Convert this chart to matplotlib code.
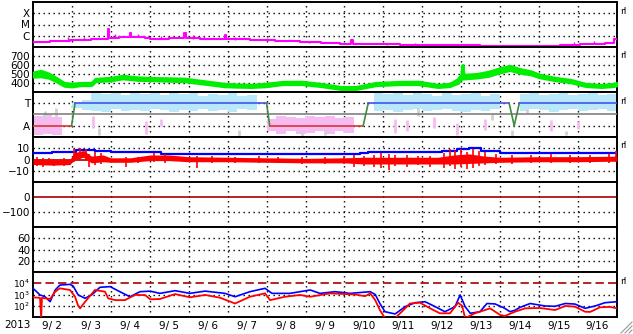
import numpy as np
import matplotlib
matplotlib.use('Agg')
import matplotlib.pyplot as plt
from matplotlib.lines import Line2D

plt.rcParams['font.family'] = ['DejaVu Sans']
plt.rcParams['mathtext.fontset'] = 'dejavusans'

# ---------------- data (days since 2013-09-02 00:00 UT) ----------------
day_labels = ['9/ 2', '9/ 3', '9/ 4', '9/ 5', '9/ 6', '9/ 7', '9/ 8', '9/ 9',
              '9/10', '9/11', '9/12', '9/13', '9/14', '9/15', '9/16']
year_label = '2013'

# GOES X-ray flux (log10 W/m2)
xray_t = [0, 0.44, 0.95, 1.5, 1.72, 1.92, 1.95, 2.2, 2.36, 2.48, 2.52, 2.88, 3.01,
          3.5, 3.88, 3.92, 4.29, 4.6, 4.93, 4.97, 5.57, 6.22, 6.86, 7.4, 7.89,
          8.17, 8.22, 8.91, 9.43, 10.45, 11.23, 11.48, 12.51, 13.54, 14.05,
          14.69, 14.92, 15.0]
xray_log = [-6.55, -6.45, -6.36, -6.33, -6.32, -5.36, -6.18, -6.1, -6.09, -5.73,
            -6.1, -6.18, -6.27, -6.22, -5.73, -6.18, -6.32, -6.28, -5.9, -6.27,
            -6.41, -6.45, -6.59, -6.65, -6.73, -6.36, -6.73, -6.73, -6.82,
            -6.86, -6.86, -6.91, -6.91, -6.86, -6.73, -6.64, -6.27, -6.27]
xray_spike_t = [0.9, 1.3, 2.1, 2.7, 3.3, 4.1, 4.4, 5.2, 6.0, 7.1, 9.1, 9.8, 10.6,
                13.9, 14.4]
xray_spike_lo = [-6.4, -6.35, -6.15, -6.12, -6.25, -6.25, -6.3, -6.35, -6.45, -6.62,
                 -6.78, -6.84, -6.88, -6.78, -6.7]
xray_spike_hi = [-6.15, -6.1, -5.8, -5.85, -6.0, -5.95, -6.05, -6.15, -6.2, -6.45,
                 -6.6, -6.65, -6.7, -6.55, -6.5]
xray_levels = [-4, -5, -6]
xray_names = ['X', 'M', 'C']

# Solar wind speed envelope (km/s)
speed_t = [0, 0.2, 0.4, 0.6, 0.8, 1.0, 1.2, 1.5, 1.6, 2.0, 2.3, 2.7, 3.0, 3.5,
           3.9, 4.3, 4.9, 5.2, 5.6, 6.0, 6.4, 6.9, 7.4, 7.9, 8.3, 8.8, 9.4, 9.9,
           10.4, 10.7, 10.9, 11.0, 11.03, 11.06, 11.4, 11.7, 12.0, 12.25, 12.5,
           12.8, 13.0, 13.4, 13.8, 14.2, 14.6, 14.9, 15.0]
speed_lo = [470, 475, 460, 420, 370, 362, 375, 378, 420, 430, 452, 435, 432, 425,
            420, 398, 365, 360, 356, 365, 388, 388, 366, 334, 334, 376, 388, 388,
            356, 366, 400, 450, 450, 450, 462, 480, 520, 545, 515, 495, 465, 432,
            410, 366, 356, 366, 375]
speed_hi = [515, 535, 505, 455, 400, 392, 400, 402, 445, 458, 480, 462, 456, 452,
            448, 425, 392, 385, 380, 392, 412, 414, 390, 356, 356, 400, 412, 414,
            380, 390, 440, 490, 600, 490, 500, 525, 565, 590, 555, 528, 492, 458,
            435, 390, 378, 390, 400]
speed_levels = [400, 500, 600, 700]

# IMF sector (A=1, T=3)
sector_t = [0, 0.99, 1.08, 6.0, 6.08, 8.48, 8.61, 12.23, 12.36, 12.49, 15.0]
sector_v = [1, 1, 3, 3, 1, 1, 3, 3, 1, 3, 3]
phi_t = [i * 0.25 for i in range(61)]
nan = float('nan')
cyan_lo = [nan, nan, nan, nan, 2.6, 2.4, 2.3, 2.2, 2.5, 2.3, 2.4, 2.3, 2.5, 2.4,
           2.2, 2.4, 2.3, 2.5, 2.3, 2.4, 2.2, 2.5, 2.4, 2.3, nan, nan, nan, nan,
           nan, nan, nan, nan, nan, nan, nan, 2.3, 2.4, 2.2, 2.4, 2.5, 2.3, 2.4,
           2.5, 2.3, 2.2, 2.4, 2.3, 2.5, 2.4, nan, 2.3, 2.5, 2.4, 2.2, 2.4, 2.5,
           2.3, 2.4, 2.5, 2.3, 2.4]
cyan_hi = [nan, nan, nan, nan, 3.0, 3.3, 3.9, 3.8, 3.9, 3.7, 3.9, 3.8, 3.9, 3.7,
           3.9, 3.8, 3.9, 3.6, 3.8, 3.7, 3.9, 3.6, 3.7, 3.9, nan, nan, nan, nan,
           nan, nan, nan, nan, nan, nan, nan, 3.9, 3.8, 3.9, 3.7, 3.9, 3.8, 3.6,
           3.9, 3.7, 3.8, 3.9, 3.6, 3.8, 3.7, nan, 3.8, 3.9, 3.7, 3.8, 3.9, 3.7,
           3.8, 3.9, 3.7, 3.8, 3.8]
pink_lo = [0.2, 0.3, 0.2, 0.4, nan, nan, nan, nan, nan, nan, nan, nan, nan, nan,
           nan, nan, nan, nan, nan, nan, nan, nan, nan, nan, 0.5, 0.3, 0.5, 0.3,
           0.4, 0.5, 0.3, 0.5, 0.4, 0.6, nan, nan, nan, nan, nan, nan, nan, nan,
           nan, nan, nan, nan, nan, nan, nan, 0.3, nan, nan, nan, nan, nan, nan,
           nan, nan, nan, nan, nan]
pink_hi = [1.9, 2.0, 1.8, 2.0, nan, nan, nan, nan, nan, nan, nan, nan, nan, nan,
           nan, nan, nan, nan, nan, nan, nan, nan, nan, nan, 1.6, 1.9, 1.8, 1.7,
           1.9, 1.8, 1.9, 1.7, 1.8, 1.9, nan, nan, nan, nan, nan, nan, nan, nan,
           nan, nan, nan, nan, nan, nan, nan, 1.5, nan, nan, nan, nan, nan, nan,
           nan, nan, nan, nan, nan]
pink_spot_t = [1.55, 2.9, 3.3, 9.3, 9.6, 10.3, 10.9, 11.6, 13.3, 14.0]
pink_spot_lo = [0.8, 0.3, 1.0, 0.4, 0.5, 0.8, 0.2, 0.6, 0.5, 0.7]
pink_spot_hi = [1.9, 1.4, 1.6, 1.6, 1.5, 1.8, 1.2, 1.6, 1.5, 1.4]
gray_spot_t = [0.3, 0.6, 1.7, 5.3, 6.9, 7.5, 9.9, 11.8, 12.3, 12.7, 13.7]
gray_spot_lo = [1.6, 1.8, 0.2, 0.1, 0.1, 0.2, 1.9, 1.5, 0.1, 2.1, 0.2]
gray_spot_hi = [2.3, 2.6, 0.8, 0.6, 0.5, 0.7, 2.6, 2.0, 0.6, 2.5, 0.5]

# IMF Bt (nT)
bt_t = [0, 0.5, 1.0, 1.1, 1.6, 2.0, 2.6, 3.0, 3.3, 5.0, 7.0, 8.0, 8.4, 8.6, 9.0,
        9.5, 10.0, 10.5, 10.9, 11.2, 11.5, 12.0, 12.5, 13.0, 14.0, 14.8, 15.0]
bt_v = [6, 6.3, 6.5, 8.5, 8, 7, 6.5, 6.5, 4.6, 4.6, 4.6, 4.8, 5.5, 6.8, 6.5, 6.8,
        6.5, 7.5, 9, 10, 8, 6, 6, 5.8, 5.8, 6.2, 8]
# IMF Bz (nT): core band and individual excursions
bz_t = [0, 0.5, 0.95, 1.05, 1.3, 1.5, 1.8, 2.0, 2.5, 3.0, 3.5, 4.0, 5.0, 6.0, 7.0,
        8.0, 8.5, 9.0, 9.5, 10.4, 10.8, 11.2, 11.6, 12.0, 13.0, 14.0, 15.0]
bz_lo = [-4.5, -5, -4.5, 0, 2, -3, -2, -2.5, -2.5, -1, -1, -2, -2, -2.5, -3, -3,
         -4, -4, -4, -4, -4, -3.5, -3, -2.5, -2, -2, -1.5]
bz_hi = [0.5, -0.5, 0, 6, 8, 3, 4, 1.5, 1.5, 4, 4, 2.5, 2, 1.5, 1, 1.5, 2, 2, 2,
         2, 4, 5, 3, 2, 2.5, 2.5, 3]
bz_spike_t = [0.1, 0.25, 0.4, 0.55, 0.8, 1.05, 1.2, 1.35, 1.45, 1.6, 1.75, 2.4,
              2.7, 3.1, 3.4, 4.2, 4.6, 5.2, 5.8, 6.3, 6.9, 7.5, 8.0, 8.25, 8.5,
              8.75, 8.95, 9.15, 9.3, 9.6, 9.9, 10.2, 10.55, 10.7, 10.85, 11.0,
              11.15, 11.3, 11.45, 11.6, 11.9, 12.3, 12.8, 13.3, 13.8, 14.3, 14.8,
              14.98]
bz_spike_lo = [-6, -7, -5, -6, -6, -2, 0, -1, -6.5, -5, -4, -6.7, -3, -2, -3, -7.5,
               -3, -3, -3.5, -3, -4, -4, -4, -6.7, -6, -6.5, -7.5, -9, -6, -6.7,
               -5, -6.7, -7.5, -6, -8, -7, -8, -7.5, -6, -5, -4, -4, -3.5, -3.5,
               -3, -3.5, -3, -2]
bz_spike_hi = [2, 1, 1, 0.5, 1, 9, 10, 9, 5, 6.7, 6, 2, 2.5, 5.5, 5, 3, 3, 2.5, 3,
               2.5, 2, 2.5, 3, 4, 3.5, 4, 5.8, 5, 4, 4, 3, 3.5, 6, 9.3, 8, 9.3, 7,
               9, 8, 7, 5, 4, 4, 4.5, 4, 4, 4.5, 8]
bz_levels = [10, -10]

# Dst (no data), Kp-like panel (no data)
dst_levels = [-100]
p6_levels = [20, 40, 60]

# GOES electron flux (log10)
eb_t = [0.0, 0.18, 0.31, 0.44, 0.57, 0.69, 0.95, 1.03, 1.16, 1.34, 1.52, 1.72,
        1.98, 2.23, 2.49, 2.75, 3.01, 3.26, 3.65, 4.03, 4.42, 4.93, 5.19, 5.57,
        5.96, 6.14, 6.60, 7.12, 7.37, 7.76, 8.14, 8.66, 8.79, 8.91, 9.04, 9.30,
        9.56, 9.81, 10.07, 10.33, 10.58, 10.84, 10.97, 11.10, 11.23, 11.48,
        11.66, 11.87, 12.12, 12.25, 12.38, 12.51, 12.77, 13.15, 13.41, 13.67,
        13.92, 14.18, 14.44, 14.69, 15.0]
eb_log = [3.55, 2.96, 2.8, 2.36, 3.4, 3.84, 3.9, 3.76, 2.96, 2.66, 3.0, 3.64, 3.7,
          3.25, 2.8, 3.25, 3.3, 3.1, 3.34, 3.1, 3.3, 3.1, 2.8, 3.25, 3.55, 3.1,
          3.1, 3.4, 3.1, 3.25, 3.1, 3.25, 3.0, 2.2, 1.47, 1.27, 1.92, 2.27, 2.36,
          1.92, 1.47, 1.92, 2.96, 1.92, 1.33, 1.47, 2.2, 2.16, 1.77, 1.47, 1.6,
          1.86, 2.2, 1.98, 1.95, 2.2, 2.15, 1.77, 1.98, 2.27, 2.36]
er_t = [0.0, 0.18, 0.21, 0.23, 0.44, 0.57, 0.69, 0.95, 1.08, 1.16, 1.21, 1.34,
        1.59, 1.85, 1.93, 2.11, 2.36, 2.62, 2.88, 3.01, 3.26, 3.65, 4.03, 4.42,
        4.80, 5.19, 5.57, 5.96, 6.09, 6.47, 6.86, 7.12, 7.63, 8.27, 8.53, 8.66,
        8.79, 8.91, 9.04, 9.30, 9.56, 9.68, 9.94, 10.20, 10.45, 10.71, 10.92,
        11.02, 11.10, 11.35, 11.48, 11.74, 12.0, 12.12, 12.38, 12.64, 13.02,
        13.41, 13.67, 13.92, 14.18, 14.31, 14.56, 14.82, 15.0]
er_log = [2.75, 2.7, 0.9, 2.7, 2.6, 3.25, 3.55, 3.4, 2.8, 2.0, 1.77, 2.36, 3.4,
          3.25, 2.66, 2.5, 2.5, 2.96, 2.95, 2.57, 2.6, 3.04, 2.75, 2.96, 2.72,
          2.2, 2.8, 3.1, 2.5, 2.8, 2.96, 2.8, 3.1, 3.0, 2.85, 3.1, 2.5, 1.62, 0.9,
          0.9, 1.77, 2.2, 2.27, 1.77, 1.33, 1.33, 2.27, 2.0, 0.9, 1.33, 1.47, 1.77,
          1.18, 1.09, 1.47, 1.77, 1.8, 1.62, 1.98, 1.92, 1.47, 1.45, 1.86, 1.9,
          1.77]
e_threshold = 1e4
e_levels = [1e2, 1e3]

# ---------------- layout ----------------
W, H = 633, 334
fig = plt.figure(figsize=(W / 100, H / 100), dpi=100)
fig.patch.set_facecolor('white')
left_px, right_px = 33, 617
tops = [2 + 45 * i for i in range(7)]

axes = []
for top in tops:
    ax = fig.add_axes([left_px / W, (H - top - 45) / H, (right_px - left_px) / W, 45 / H])
    axes.append(ax)

FS = 7.5
dot = (0, (1, 2.6))
for ax in axes:
    ax.set_xlim(0, 15)
    for s in ax.spines.values():
        s.set_linewidth(1.4)
        s.set_color('black')
    for d in range(1, 15):
        ax.axvline(d, color='black', lw=1.0, ls=dot, zorder=1)
    ax.tick_params(axis='both', length=0, pad=2, labelsize=FS)
    ax.set_xticks([])


def hgrid(ax, levels):
    for lv in levels:
        ax.axhline(lv, color='black', lw=1.0, ls=dot, zorder=1)


# Panel 1: X-ray
ax = axes[0]
ax.set_ylim(-7, -3)
hgrid(ax, xray_levels)
ax.plot(xray_t, xray_log, color='#ff00ff', lw=1.5, drawstyle='steps-post', zorder=3)
ax.vlines(xray_spike_t, xray_spike_lo, xray_spike_hi, color='#ff00ff', lw=1.0, zorder=3)
ax.set_yticks(xray_levels)
ax.set_yticklabels(xray_names)

# Panel 2: speed
ax = axes[1]
ax.set_ylim(300, 800)
hgrid(ax, speed_levels)
ax.fill_between(speed_t, speed_lo, speed_hi, color='#00ee00', edgecolor='#00ee00',
                lw=2.2, zorder=3)
ax.set_yticks(speed_levels)
ax.set_yticklabels([str(v) for v in speed_levels])

# Panel 3: sector
ax = axes[2]
ax.set_ylim(0, 4)
ax.fill_between(phi_t, cyan_lo, cyan_hi, step='post', color='#b8e8fa', lw=0, zorder=2)
ax.fill_between(phi_t, pink_lo, pink_hi, step='post', color='#f6bcf2', lw=0, zorder=2)
ax.vlines(pink_spot_t, pink_spot_lo, pink_spot_hi, color='#f6bcf2', lw=2, zorder=2)
ax.vlines(gray_spot_t, gray_spot_lo, gray_spot_hi, color='#d2d2d2', lw=2, zorder=2)
hgrid(ax, [1, 3])
ax.axhline(2, color='#808080', lw=1.2, zorder=3)
for i in range(len(sector_t) - 1):
    v0, v1 = sector_v[i], sector_v[i + 1]
    if v0 != v1:
        c = '#3f8a3f'
    elif v0 == 3:
        c = '#4455ee'
    else:
        c = '#dd3333'
    ax.plot(sector_t[i:i + 2], sector_v[i:i + 2], color=c, lw=1.2, zorder=4)
ax.set_yticks([3, 1])
ax.set_yticklabels(['T', 'A'])

# Panel 4: Bt / Bz
ax = axes[3]
ax.set_ylim(-20, 20)
hgrid(ax, bz_levels)
ax.axhline(0, color='#aa0000', lw=1.2, zorder=2)
ax.plot(bt_t, bt_v, color='#0000ff', lw=1.6, drawstyle='steps-post', zorder=3)
ax.fill_between(bz_t, bz_lo, bz_hi, color='#ff0000', lw=0, zorder=4)
ax.vlines(bz_spike_t, bz_spike_lo, bz_spike_hi, color='#ff0000', lw=1.2, zorder=4)
ax.set_yticks([10, 0, -10])
ax.set_yticklabels(['10', '0', '\u221210'])

# Panel 5: Dst
ax = axes[4]
ax.set_ylim(-200, 100)
hgrid(ax, dst_levels)
ax.axhline(0, color='#aa0000', lw=1.2, zorder=2)
ax.set_yticks([0, -100])
ax.set_yticklabels(['0', '\u2212100'])

# Panel 6
ax = axes[5]
ax.set_ylim(0, 80)
hgrid(ax, p6_levels)
ax.set_yticks(p6_levels)
ax.set_yticklabels([str(v) for v in p6_levels])

# Panel 7: electrons
ax = axes[6]
ax.set_yscale('log')
ax.set_ylim(10, 1e5)
hgrid(ax, e_levels)
ax.axhline(e_threshold, color='#aa0000', lw=1.2, ls=(0, (5, 2.5)), zorder=2)
ax.plot(eb_t, [10 ** v for v in eb_log], color='#0000ff', lw=1.2, zorder=3)
ax.plot(er_t, [10 ** v for v in er_log], color='#ff0000', lw=1.3, zorder=4)
ax.set_yticks([1e4, 1e3, 1e2])
ax.set_yticklabels([r'$\mathregular{10^4}$', r'$\mathregular{10^3}$', r'$\mathregular{10^2}$'])
ax.tick_params(axis='y', labelsize=6.5)
ax.yaxis.set_minor_locator(matplotlib.ticker.NullLocator())
ax.set_xticks([i + 0.5 for i in range(15)])
ax.set_xticklabels(day_labels)
ax.tick_params(axis='x', length=0, pad=3, labelsize=FS)

fig.text(4 / W, 1 - 325 / H, year_label, fontsize=FS, va='center', ha='left')

for ypx in [12, 55, 101, 146, 282]:
    fig.text(620 / W, 1 - ypx / H, 'rl', fontsize=6.5, va='center', ha='left')

# resize grip
for k in range(3):
    off = 4 * k
    fig.add_artist(Line2D([(621 + off) / W, 632 / W], [1 / H, (12 - off) / H],
                          color='#999999', lw=0.8, transform=fig.transFigure))

fig.savefig('out.png', dpi=100)
